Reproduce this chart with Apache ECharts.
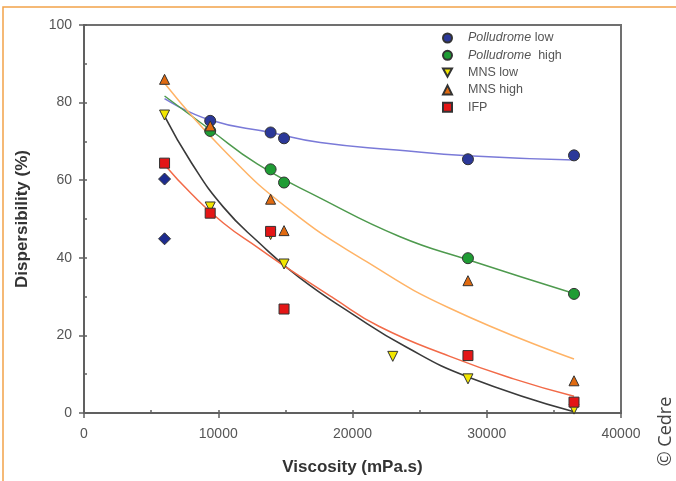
<!DOCTYPE html>
<html>
<head>
<meta charset="utf-8">
<script src="https://cdn.jsdelivr.net/npm/echarts@6/dist/echarts.min.js"></script>
<style>
html,body{margin:0;padding:0;background:#fff;}
#chart{width:676px;height:481px;}
</style>
</head>
<body>
<div id="chart"></div>
<script>
// ---- data ----
var xTicks = [0, 10000, 20000, 30000, 40000];
var yTicks = [0, 20, 40, 60, 80, 100];

var viscosity = [6000, 9400, 13900, 14900, 23000, 28600, 36500];
var polLow   = [null, 75.3, 72.3, 70.8, null, 65.4, 66.4];
var polHigh  = [null, 72.7, 62.8, 59.4, null, 39.9, 30.7];
var mnsLow   = [76.8, 53.1, 46.0, 38.4, 14.6, 8.8, 1.0];
var mnsHigh  = [86.0, 74.0, 55.1, 47.0, null, 34.1, 8.3];
var ifp      = [64.4, 51.5, 46.8, 26.8, null, 14.8, 2.8];
var otherX   = [6000, 6000];
var otherY   = [60.3, 44.9];

// fitted curves
var fitBlueX   = [6000, 9400, 13900, 17600, 23300, 28600, 36500];
var fitBlueY   = [81.0, 75.5, 72.3, 69.7, 67.8, 66.3, 65.2];
var fitGreenX  = [6000, 9400, 12900, 17600, 23500, 28600, 36500];
var fitGreenY  = [81.7, 73.0, 64.2, 55.4, 45.5, 39.5, 30.8];
var fitOrangeX = [6000, 10400, 15300, 21050, 27250, 36500];
var fitOrangeY = [85.0, 67.8, 52.4, 39.0, 27.0, 13.9];
var fitBlackX  = [6000, 8000, 10400, 13000, 16000, 20000, 24000, 28600, 36500];
var fitBlackY  = [76.5, 64.5, 53.0, 44.0, 35.0, 25.5, 17.0, 9.3, 0.3];
var fitRedX    = [6000, 8000, 10400, 13000, 15300, 18500, 22000, 27250, 32000, 36500];
var fitRedY    = [64.0, 56.5, 48.9, 42.5, 37.0, 29.8, 22.3, 14.6, 8.8, 4.3];

var legendNames = ['Polludrome low', 'Polludrome  high', 'MNS low', 'MNS high', 'IFP'];

function pts(xs, ys) {
  var out = [];
  for (var i = 0; i < xs.length; i++) if (ys[i] != null) out.push([xs[i], ys[i]]);
  return out;
}

var FONT = 'Liberation Sans, Arial, sans-serif';
var downTri = 'path://M0,0L10,0L5,9Z';
var chart = echarts.init(document.getElementById('chart'), null, {renderer: 'canvas'});

function fit(xs, ys, color, w) {
  return {type: 'line', data: pts(xs, ys), smooth: 0.5, showSymbol: false, symbol: 'none',
    lineStyle: {color: color, width: w || 1.5}, z: 1, silent: true, xAxisIndex: 0, yAxisIndex: 0};
}
function sc(name, xs, ys, symbol, color, size) {
  return {type: 'scatter', name: name, data: pts(xs, ys), symbol: symbol, symbolSize: size,
    itemStyle: {color: color, borderColor: '#333', borderWidth: 1, opacity: 1}, z: 3,
    xAxisIndex: 0, yAxisIndex: 0};
}

var option = {
  animation: false,
  backgroundColor: '#fff',
  grid: {left: 84, right: 55, top: 25, bottom: 68, show: true, borderColor: '#707070', borderWidth: 2, backgroundColor: 'transparent'},
  xAxis: [{
    type: 'value', min: xTicks[0], max: xTicks[xTicks.length - 1], interval: 10000,
    name: 'Viscosity (mPa.s)', nameLocation: 'middle', nameGap: 46,
    nameTextStyle: {fontFamily: FONT, fontSize: 17, fontWeight: 'bold', color: '#333'},
    axisLine: {show: true, lineStyle: {color: '#606060', width: 2}},
    axisTick: {show: true, inside: false, length: 5, lineStyle: {color: '#606060', width: 1.5}},
    axisLabel: {fontFamily: FONT, fontSize: 14, color: '#555', margin: 14, formatter: function (v) { return String(v); }},
    splitLine: {show: false}
  }, {
    type: 'value', min: 0, max: 40000, interval: 5000, position: 'bottom',
    axisLine: {show: false}, axisLabel: {show: false}, splitLine: {show: false},
    axisTick: {show: true, inside: true, length: 3, lineStyle: {color: '#606060', width: 1.5}}
  }],
  yAxis: [{
    type: 'value', min: yTicks[0], max: yTicks[yTicks.length - 1], interval: 20,
    name: 'Dispersibility (%)', nameLocation: 'middle', nameGap: 53, nameRotate: 90,
    nameTextStyle: {fontFamily: FONT, fontSize: 17, fontWeight: 'bold', color: '#333'},
    axisLine: {show: true, lineStyle: {color: '#606060', width: 2}},
    axisTick: {show: true, inside: false, length: 5, lineStyle: {color: '#606060', width: 1.5}},
    axisLabel: {fontFamily: FONT, fontSize: 14, color: '#555', margin: 12},
    splitLine: {show: false}
  }, {
    type: 'value', min: 0, max: 100, interval: 10, position: 'left',
    axisLine: {show: false}, axisLabel: {show: false}, splitLine: {show: false},
    axisTick: {show: true, inside: true, length: 3, lineStyle: {color: '#606060', width: 1.5}}
  }],
  legend: {
    data: [
      {name: legendNames[0], icon: 'circle'},
      {name: legendNames[1], icon: 'circle'},
      {name: legendNames[2], icon: downTri},
      {name: legendNames[3], icon: 'triangle'},
      {name: legendNames[4], icon: 'rect'}
    ],
    orient: 'vertical', left: 437, top: 26.5, itemWidth: 9, itemHeight: 9, itemGap: 4.3,
    selectedMode: false,
    formatter: function (n) {
      if (n.indexOf('Polludrome') === 0) return '{i|Polludrome}' + n.slice(10);
      return n;
    },
    textStyle: {fontFamily: FONT, fontSize: 12.5, color: '#555', lineHeight: 12, padding: [0, 0, 0, 11],
      rich: {i: {fontFamily: FONT, fontSize: 12.5, fontStyle: 'italic', color: '#555', lineHeight: 12}}}
  },
  series: [
    fit(fitBlueX, fitBlueY, '#7a7ad8'),
    fit(fitGreenX, fitGreenY, '#4e9a4e'),
    fit(fitOrangeX, fitOrangeY, '#ffb366'),
    fit(fitBlackX, fitBlackY, '#3a3a3a', 1.6),
    fit(fitRedX, fitRedY, '#f26a48'),
    sc('Polludrome low', viscosity, polLow, 'circle', '#2b3899', 11),
    sc('Polludrome  high', viscosity, polHigh, 'circle', '#1f9c34', 11),
    sc('MNS high', viscosity, mnsHigh, 'triangle', '#e06a10', 10),
    sc('MNS low', viscosity, mnsLow, downTri, '#f2e600', 10),
    sc('IFP', viscosity, ifp, 'rect', '#e41616', 10),
    sc('other', otherX, otherY, 'diamond', '#1d2b8e', 12)
  ],
  graphic: [
    {type: 'polyline', shape: {points: [[3, 481], [3, 7], [676, 7]]}, style: {stroke: '#f2a24a', lineWidth: 1.5, fill: null}, silent: true},
    {type: 'text', x: 665.5, y: 431.5, rotation: Math.PI / 2,
      style: {text: '\u00A9 Cedre', fontFamily: 'Open Sans, Liberation Sans, sans-serif', fontSize: 18, fill: '#444', align: 'center', verticalAlign: 'middle'}}
  ]
};
chart.setOption(option);
</script>
</body>
</html>
